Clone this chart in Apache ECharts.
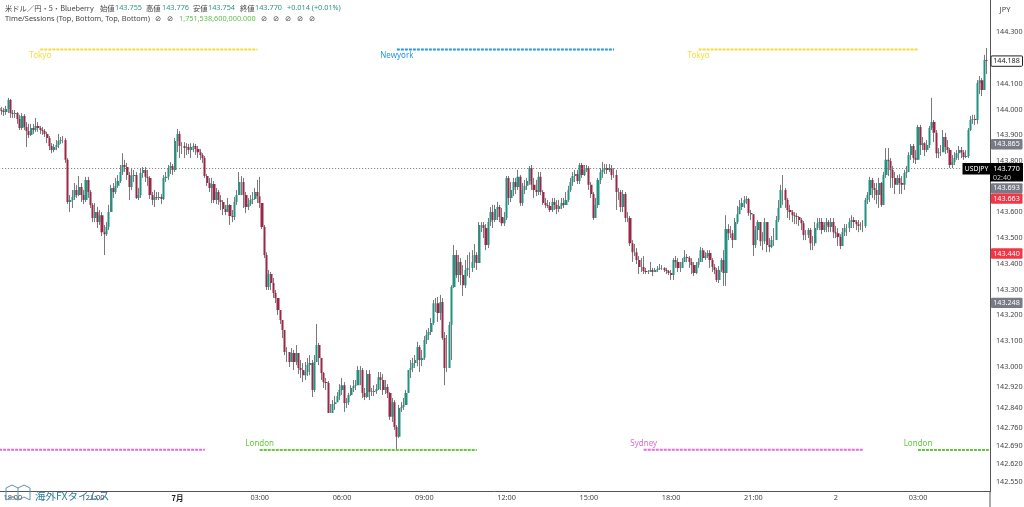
<!DOCTYPE html>
<html><head><meta charset="utf-8">
<style>html,body{margin:0;padding:0;background:#fff}#c{width:1024px;height:507px}</style>
<script src="https://cdn.jsdelivr.net/npm/echarts@6/dist/echarts.min.js"></script>
</head><body><div id="c"></div>
<script>
const firstOpen = 144.006;
const closes = [
143.998,143.994,143.990,144.002,144.037,143.986,143.982,143.986,143.963,143.928,
143.975,143.932,143.916,143.901,143.928,143.920,143.936,143.928,143.920,143.916,
143.905,143.889,143.858,143.842,143.854,143.862,143.877,143.881,143.881,143.804,
143.640,143.648,143.660,143.687,143.667,143.699,143.667,143.648,143.726,143.679,
143.629,143.578,143.601,143.562,143.589,143.523,143.515,143.543,143.601,143.695,
143.679,143.703,143.722,143.757,143.784,143.776,143.745,143.699,143.741,143.745,
143.656,143.667,143.753,143.765,143.738,143.734,143.667,143.648,143.660,143.656,
143.660,143.652,143.734,143.738,143.772,143.780,143.765,143.877,143.905,143.858,
143.858,143.850,143.854,143.842,143.854,143.858,143.846,143.834,143.823,143.811,
143.741,143.714,143.695,143.710,143.648,143.679,143.648,143.640,143.613,143.601,
143.629,143.586,143.582,143.640,143.667,143.718,143.718,143.667,143.621,143.632,
143.648,143.652,143.679,143.663,143.636,143.543,143.434,143.310,143.360,143.325,
143.286,143.267,143.220,143.181,143.143,143.057,143.057,143.018,143.053,143.018,
143.053,142.995,142.987,142.967,142.979,143.006,143.014,142.909,143.018,143.084,
143.034,142.975,142.940,142.936,142.820,142.820,142.855,142.862,142.886,142.909,
142.928,142.859,142.862,142.890,142.917,142.925,142.928,142.987,142.987,142.898,
142.882,142.971,142.901,142.901,142.905,142.913,142.959,142.948,142.909,142.921,
142.898,142.805,142.862,142.765,142.727,142.839,142.843,142.851,142.898,142.987,
142.995,143.014,143.026,143.076,143.026,143.034,143.104,143.123,143.135,143.170,
143.247,143.247,143.209,143.251,143.111,142.995,142.995,143.162,143.310,143.434,
143.356,143.407,143.356,143.317,143.376,143.384,143.384,143.407,143.434,143.403,
143.551,143.551,143.539,143.473,143.562,143.601,143.570,143.613,143.621,143.582,
143.558,143.578,143.734,143.656,143.687,143.718,143.699,143.738,143.636,143.687,
143.703,143.722,143.772,143.707,143.687,143.679,143.738,143.679,143.636,143.629,
143.625,143.609,143.640,143.629,143.613,143.625,143.636,143.629,143.648,143.687,
143.718,143.741,143.749,143.722,143.784,143.745,143.765,143.772,143.707,143.671,
143.578,143.629,143.726,143.757,143.765,143.772,143.765,143.772,143.745,143.745,
143.679,143.679,143.621,143.671,143.578,143.578,143.480,143.445,143.445,143.415,
143.387,143.387,143.372,143.368,143.368,143.376,143.368,143.376,143.380,143.384,
143.384,143.376,143.372,143.364,143.356,143.415,143.407,143.384,143.384,143.407,
143.426,143.422,143.407,143.395,143.364,143.395,143.407,143.453,143.422,143.430,
143.442,143.415,143.387,143.376,143.337,143.376,143.415,143.364,143.535,143.519,
143.519,143.492,143.562,143.593,143.621,143.636,143.648,143.652,143.597,143.593,
143.473,143.531,143.562,143.488,143.488,143.562,143.473,143.465,143.492,143.492,
143.570,143.617,143.687,143.687,143.648,143.609,143.601,143.589,143.586,143.582,
143.570,143.558,143.512,143.512,143.531,143.480,143.480,143.539,143.558,143.562,
143.531,143.551,143.562,143.543,143.562,143.523,143.519,143.504,143.469,143.523,
143.539,143.539,143.562,143.570,143.562,143.554,143.547,143.547,143.547,143.648,
143.667,143.726,143.695,143.687,143.667,143.714,143.629,143.745,143.804,143.800,
143.765,143.734,143.707,143.734,143.714,143.707,143.753,143.757,143.823,143.858,
143.811,143.804,143.932,143.862,143.869,143.842,143.862,143.928,143.951,143.909,
143.830,143.834,143.834,143.893,143.854,143.842,143.784,143.796,143.811,143.830,
143.842,143.834,143.815,143.819,143.920,143.959,143.963,143.959,144.103,144.114,
144.076,144.192,144.188];
const highs = [
144.014,144.010,144.006,144.014,144.045,144.041,143.998,143.998,143.990,143.979,
143.986,143.982,143.951,143.944,143.944,143.944,143.967,143.951,143.936,143.932,
143.924,143.913,143.897,143.869,143.866,143.881,143.905,143.893,143.897,143.889,
143.811,143.667,143.687,143.714,143.707,143.741,143.714,143.687,143.738,143.738,
143.687,143.636,143.636,143.621,143.609,143.601,143.551,143.562,143.629,143.707,
143.714,143.734,143.745,143.784,143.830,143.804,143.792,143.757,143.772,143.765,
143.757,143.695,143.772,143.776,143.776,143.765,143.741,143.679,143.687,143.679,
143.679,143.671,143.745,143.757,143.784,143.796,143.788,143.889,143.924,143.916,
143.873,143.873,143.869,143.866,143.869,143.869,143.866,143.858,143.846,143.830,
143.819,143.749,143.734,143.734,143.722,143.695,143.687,143.667,143.648,143.629,
143.656,143.632,143.609,143.660,143.687,143.757,143.741,143.734,143.679,143.656,
143.667,143.679,143.695,143.726,143.738,143.636,143.551,143.445,143.376,143.368,
143.345,143.298,143.259,143.220,143.181,143.143,143.076,143.057,143.072,143.065,
143.084,143.045,143.026,143.014,143.018,143.034,143.045,143.026,143.045,143.166,
143.092,143.034,142.979,142.956,142.944,142.855,142.870,142.886,142.901,142.932,
142.956,142.940,142.878,142.898,142.928,142.948,142.948,143.002,143.002,142.995,
142.917,142.987,142.987,142.917,142.928,142.932,142.979,142.979,142.971,142.948,
142.932,142.901,142.878,142.870,142.773,142.851,142.862,142.878,142.909,142.987,
143.026,143.034,143.045,143.096,143.084,143.065,143.119,143.143,143.150,143.189,
143.259,143.267,143.271,143.279,143.267,143.135,143.123,143.174,143.317,143.473,
143.453,143.434,143.422,143.395,143.415,143.434,143.445,143.453,143.477,143.445,
143.562,143.562,143.562,143.554,143.578,143.621,143.629,143.629,143.640,143.629,
143.617,143.601,143.741,143.741,143.718,143.734,143.734,143.765,143.745,143.714,
143.726,143.734,143.780,143.784,143.734,143.726,143.757,143.757,143.687,143.656,
143.648,143.640,143.656,143.656,143.648,143.648,143.656,143.656,143.679,143.703,
143.734,143.757,143.765,143.765,143.792,143.792,143.784,143.784,143.780,143.718,
143.679,143.656,143.734,143.772,143.796,143.788,143.788,143.788,143.784,143.772,
143.765,143.695,143.687,143.687,143.679,143.601,143.586,143.492,143.477,143.461,
143.430,143.422,143.430,143.384,143.376,143.407,143.384,143.384,143.391,143.399,
143.395,143.387,143.384,143.376,143.376,143.422,143.430,143.422,143.407,143.422,
143.453,143.438,143.430,143.422,143.407,143.407,143.422,143.465,143.461,143.445,
143.453,143.453,143.422,143.399,143.384,143.391,143.422,143.453,143.589,143.554,
143.547,143.531,143.578,143.625,143.648,143.656,143.663,143.663,143.656,143.609,
143.593,143.547,143.570,143.554,143.523,143.578,143.562,143.500,143.508,143.539,
143.586,143.648,143.707,143.745,143.695,143.656,143.629,143.609,143.601,143.597,
143.586,143.578,143.566,143.531,143.539,143.539,143.508,143.562,143.578,143.578,
143.578,143.562,143.578,143.570,143.578,143.578,143.547,143.539,143.515,143.539,
143.554,143.554,143.578,143.589,143.582,143.570,143.570,143.562,143.570,143.656,
143.679,143.738,143.734,143.714,143.714,143.734,143.718,143.757,143.850,143.850,
143.811,143.780,143.757,143.745,143.749,143.741,143.765,143.780,143.834,143.866,
143.866,143.842,143.940,143.940,143.893,143.873,143.881,143.936,144.045,143.959,
143.920,143.850,143.862,143.920,143.909,143.881,143.850,143.823,143.834,143.842,
143.858,143.854,143.842,143.842,143.928,143.975,143.979,143.979,144.114,144.130,
144.122,144.212,144.239];
const lows = [
143.982,143.979,143.975,143.979,143.986,143.967,143.967,143.967,143.944,143.920,
143.920,143.920,143.854,143.889,143.897,143.905,143.913,143.913,143.905,143.901,
143.893,143.869,143.842,143.830,143.834,143.842,143.850,143.866,143.869,143.792,
143.632,143.601,143.617,143.648,143.656,143.663,143.640,143.632,143.640,143.656,
143.617,143.562,143.562,143.539,143.551,143.508,143.434,143.508,143.531,143.601,
143.656,143.671,143.695,143.714,143.745,143.757,143.726,143.648,143.687,143.718,
143.652,143.648,143.656,143.734,143.718,143.703,143.652,143.629,143.621,143.648,
143.648,143.632,143.648,143.718,143.726,143.749,143.745,143.757,143.834,143.811,
143.827,143.811,143.823,143.827,143.811,143.834,143.823,143.811,143.804,143.792,
143.734,143.703,143.679,143.636,143.636,143.632,143.629,143.609,143.589,143.589,
143.601,143.551,143.562,143.570,143.629,143.679,143.667,143.617,143.597,143.609,
143.625,143.632,143.648,143.636,143.617,143.535,143.422,143.298,143.298,143.298,
143.267,143.247,143.201,143.166,143.111,143.045,143.018,142.999,143.018,142.987,
143.006,142.971,142.956,142.940,142.948,142.964,142.967,142.882,142.901,143.018,
143.006,142.948,142.917,142.909,142.828,142.824,142.828,142.832,142.862,142.870,
142.890,142.824,142.839,142.851,142.886,142.901,142.909,142.928,142.928,142.878,
142.870,142.878,142.870,142.886,142.886,142.894,142.909,142.909,142.890,142.894,
142.878,142.793,142.785,142.754,142.680,142.723,142.824,142.832,142.851,142.898,
142.956,142.979,142.995,143.002,142.979,143.002,143.026,143.088,143.104,143.123,
143.162,143.212,143.174,143.181,143.104,142.928,142.979,142.995,143.026,143.306,
143.345,143.329,143.317,143.275,143.306,143.352,143.345,143.368,143.384,143.376,
143.407,143.523,143.500,143.453,143.461,143.547,143.539,143.562,143.570,143.562,
143.547,143.547,143.570,143.629,143.640,143.663,143.671,143.687,143.625,143.625,
143.671,143.687,143.707,143.687,143.656,143.663,143.667,143.667,143.629,143.617,
143.617,143.601,143.601,143.609,143.593,143.601,143.613,143.617,143.629,143.640,
143.679,143.703,143.718,143.710,143.710,143.734,143.741,143.757,143.687,143.656,
143.570,143.578,143.617,143.710,143.734,143.749,143.749,143.757,143.726,143.734,
143.609,143.648,143.601,143.601,143.562,143.562,143.469,143.407,143.430,143.399,
143.360,143.368,143.360,143.360,143.360,143.368,143.352,143.368,143.368,143.376,
143.376,143.368,143.360,143.356,143.337,143.337,143.384,143.368,143.368,143.384,
143.407,143.407,143.384,143.360,143.352,143.360,143.384,143.407,143.407,143.415,
143.422,143.384,143.368,143.360,143.329,143.325,143.368,143.314,143.314,143.492,
143.500,143.461,143.492,143.554,143.593,143.609,143.617,143.632,143.586,143.570,
143.430,143.461,143.492,143.469,143.453,143.477,143.445,143.445,143.461,143.469,
143.531,143.562,143.632,143.629,143.617,143.578,143.570,143.562,143.554,143.554,
143.547,143.531,143.492,143.492,143.500,143.453,143.453,143.469,143.531,143.531,
143.515,143.523,143.523,143.523,143.523,143.500,143.500,143.469,143.457,143.477,
143.508,143.508,143.523,143.539,143.539,143.531,143.523,143.531,143.523,143.539,
143.632,143.640,143.656,143.648,143.632,143.617,143.621,143.629,143.734,143.741,
143.695,143.695,143.671,143.710,143.671,143.671,143.687,143.734,143.757,143.804,
143.792,143.788,143.804,143.823,143.842,143.819,143.834,143.850,143.920,143.873,
143.811,143.811,143.819,143.842,143.827,143.830,143.772,143.772,143.784,143.804,
143.804,143.811,143.804,143.811,143.811,143.916,143.944,143.940,143.944,144.060,
144.052,144.146,144.138];

const barCount = 434;
const tickIndex = [6,42,78,114,150,186,222,258,294,330,366,402];
const tickText = ['18:00','21:00','7月','03:00','06:00','09:00','12:00','15:00','18:00','21:00','2','03:00'];
const priceTicks = [144.3,144.1,144.0,143.9,143.8,143.6,143.5,143.4,143.3,143.2,143.1,143.0,142.92,142.84,142.76,142.69,142.62,142.55];

const sessionNames = ['Tokyo','Newyork','Tokyo','Sydney','London','Sydney','London'];
const sessionPrices = [144.233,144.233,144.233,142.677,142.676,142.677,142.676];
const sessionFrom = [18,174,306,0,114,282,402];
const sessionTo = [113,269,402,90,209,378,433];

const lastPrice = 143.770;
const lastTo = 421;
const badgePrices = [144.188,143.865,143.693,143.663,143.440,143.248];
const badgeKinds = ['box','grey','grey','red','red','grey'];

const headerLine1 = ['米ドル／円・5・Blueberry','始値','143.755','高値','143.776','安値','143.754','終値','143.770','+0.014 (+0.01%)'];
const headerLine1X = [5,100,115,146,162,193,208,240,255,287];
const headerLine2 = ['Time/Sessions (Top, Bottom, Top, Bottom)','⊘','⊘','1,751,538,600,000.000','⊘','⊘','⊘','⊘','⊘'];
const headerLine2X = [5,155,167,179,261,273,285,297,309];

const COL = {up:'#1f9282',down:'#9a2746',wick:'#7a7a7a',text:'#444',teal:'#2f9384',
  Tokyo:'#f4dc3c',Newyork:'#2a96e6',Sydney:'#e26bd6',London:'#62c93c'};
const FONT = 'Noto Sans';

const cats = Array.from({length:barCount},(_,i)=>'b'+i);
const opens = closes.map((c,i)=>i?closes[i-1]:firstOpen);
const ohlc = closes.map((c,i)=>[opens[i],c,Math.min(lows[i],opens[i],c),Math.max(highs[i],opens[i],c)]);

const sessionSeries = sessionNames.map((n,k)=>{
  const top = sessionPrices[k]>144;
  return {type:'line',silent:true,z:3,animation:false,symbol:'circle',symbolSize:0,showSymbol:true,
    lineStyle:{color:COL[n],width:2,type:[3,1]},itemStyle:{color:COL[n]},
    data:[{value:[sessionFrom[k],sessionPrices[k]],
           label:{show:sessionFrom[k]>0,formatter:n,position:top?'bottom':'top',distance:2,color:COL[n],fontSize:8,fontFamily:FONT}},
          {value:[sessionTo[k],sessionPrices[k]],label:{show:false}}]};
});

function badgeItem(p,api){
  const i=api.value(2), k=badgeKinds[i];
  let y=api.coord([0,api.value(1)])[1];
  if(i===3) y+=2.5;
  const fill=k==='red'?'#f23645':k==='grey'?'#787b86':'#ffffff';
  return {type:'group',children:[
    {type:'rect',shape:{x:991,y:y-5.2,width:31.5,height:10.4,r:1},style:{fill,stroke:k==='box'?'#222':null,lineWidth:k==='box'?1:0}},
    {type:'text',style:{x:1006.5,y,text:api.value(1).toFixed(3),fill:k==='box'?'#222':'#fff',fontSize:7.2,fontFamily:FONT,textAlign:'center',textVerticalAlign:'middle'}}
  ]};
}
function lastItem(p,api){
  const y=api.coord([0,api.value(1)])[1];
  return {type:'group',children:[
    {type:'rect',shape:{x:962.5,y:y-5.6,width:28,height:11.5},style:{fill:'#000'}},
    {type:'rect',shape:{x:990,y:y-5.6,width:33,height:18.5},style:{fill:'#000'}},
    {type:'text',style:{x:976.5,y,text:'USDJPY',fill:'#fff',fontSize:6.8,fontFamily:FONT,textAlign:'center',textVerticalAlign:'middle'}},
    {type:'text',style:{x:1006.5,y,text:api.value(1).toFixed(3),fill:'#fff',fontSize:7.2,fontFamily:FONT,textAlign:'center',textVerticalAlign:'middle'}},
    {type:'text',style:{x:1002,y:y+9,text:'02:40',fill:'#ccc',fontSize:7,fontFamily:FONT,textAlign:'center',textVerticalAlign:'middle'}}
  ]};
}
const headerGraphics = [];
headerLine1.forEach((t,i)=>{
  const isVal = /^[+\d]/.test(t);
  headerGraphics.push({type:'text',z:5,style:{x:headerLine1X[i],y:8,text:t,fill:isVal?COL.teal:COL.text,fontSize:7.3,fontFamily:i===0||!isVal?'Noto Sans CJK JP':FONT,textVerticalAlign:'middle'}});
});
headerLine2.forEach((t,i)=>{
  const isSym = t==='⊘';
  headerGraphics.push({type:'text',z:5,style:{x:headerLine2X[i],y:19,text:t,fill:isSym?COL.text:(i===3?'#5cc04a':COL.text),fontSize:i===0?7.4:7.3,fontFamily:isSym?'DejaVu Sans':FONT,textVerticalAlign:'middle'}});
});

const chart = echarts.init(document.getElementById('c'),null,{renderer:'canvas'});
chart.setOption({
  animation:false,backgroundColor:'#fff',
  grid:{left:-2,width:992,top:0,height:491.5,outerBoundsMode:'none',containLabel:false},
  xAxis:{type:'category',data:cats,boundaryGap:true,
    axisLine:{show:true,lineStyle:{color:'#555',width:1}},axisTick:{show:false},splitLine:{show:false},
    axisLabel:{show:true,interval:(i)=>tickIndex.includes(i),margin:3,fontSize:7.3,color:'#444',fontFamily:FONT,hideOverlap:false,
      formatter:(v,i)=>{const k=tickIndex.indexOf(i);if(k<0)return '';return tickText[k]==='7月'?'{b|7月}':tickText[k];},
      rich:{b:{fontWeight:'bold',fontSize:7.5,color:'#222',fontFamily:'Noto Sans CJK JP'}}}},
  yAxis:{type:'value',position:'right',min:142.5146,max:144.4256,scale:true,
    axisLine:{show:true,lineStyle:{color:'#555',width:1}},axisTick:{show:false},splitLine:{show:false},
    axisLabel:{show:true,customValues:priceTicks,formatter:v=>v.toFixed(3),inside:false,margin:6,fontSize:7.2,color:'#444',fontFamily:FONT,align:'left'}},
  graphic:[
    {type:'line',z:5,shape:{x1:990,y1:491,x2:990,y2:507},style:{stroke:'#555',lineWidth:1}},
    {type:'text',z:5,style:{x:1005,y:10,text:'JPY',fill:'#444',fontSize:7.5,fontFamily:FONT,textAlign:'center',textVerticalAlign:'middle'}},
    {type:'polyline',z:1,shape:{points:[[6,500],[6,488],[12,485],[18,488],[24,485],[30,488],[30,500],[24,497],[18,500],[12,497],[6,500]]},style:{fill:null,stroke:'#5a95ad',lineWidth:1}},
    {type:'line',z:1,shape:{x1:18,y1:488,x2:18,y2:500},style:{stroke:'#5a95ad',lineWidth:1}},
    {type:'text',z:1,style:{x:35,y:491,text:'海外FXタイムス',fill:'#2f7f9f',fontSize:10.5,fontFamily:'Noto Sans CJK JP'}},
    ...headerGraphics
  ],
  series:[
    {type:'candlestick',name:'wick',large:false,barWidth:1,z:2,silent:true,animation:false,data:ohlc,
     itemStyle:{color:COL.wick,color0:COL.wick,borderColor:COL.wick,borderColor0:COL.wick,borderWidth:1},
     markLine:{silent:true,symbol:'none',animation:false,label:{show:false},lineStyle:{color:'#777',type:[1,2],width:1},
       data:[[{xAxis:0,yAxis:lastPrice},{xAxis:lastTo,yAxis:lastPrice}]]}},
    {type:'candlestick',name:'USDJPY',large:false,barWidth:2.6,z:3,silent:true,animation:false,data:ohlc,
     itemStyle:{color:COL.up,color0:COL.down,borderColor:COL.up,borderColor0:COL.down,borderWidth:0}},
    ...sessionSeries,
    {type:'custom',clip:false,z:6,silent:true,animation:false,renderItem:badgeItem,coordinateSystem:'cartesian2d',
     encode:{x:0,y:1},data:badgePrices.map((p,i)=>[0,p,i])},
    {type:'custom',clip:false,z:7,silent:true,animation:false,renderItem:lastItem,coordinateSystem:'cartesian2d',
     encode:{x:0,y:1},data:[[0,lastPrice]]}
  ]
});
</script></body></html>
